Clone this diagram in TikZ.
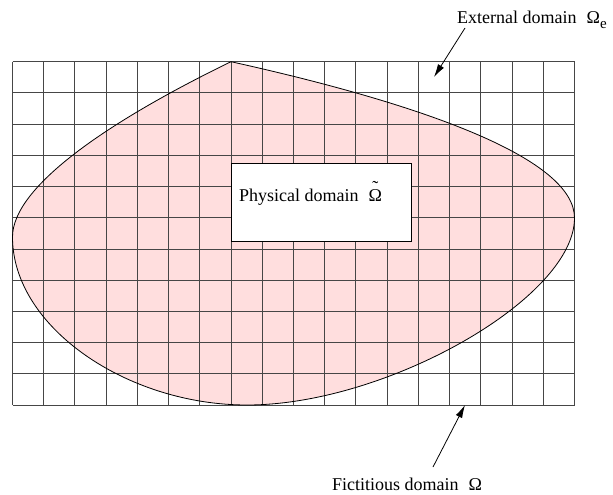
\documentclass[tikz,border=0pt]{standalone}
\usepackage{fontspec}
\setmainfont{Liberation Serif}
\usetikzlibrary{arrows.meta}
\definecolor{domainpink}{RGB}{255,222,222}
\definecolor{gridgray}{RGB}{70,70,70}
\newcommand{\tildeOmega}{\ooalign{Ω\cr\hidewidth\raisebox{8pt}{\symbol{"02DC}}\hidewidth\cr}}
\begin{document}
\begin{tikzpicture}[x=1pt,y=-1pt,
  gridline/.style={draw=gridgray,line width=0.9pt},
  outline/.style={draw=black,line width=0.8pt},
  pointer/.style={draw=black,line width=0.8pt,-{Latex[length=13pt,width=7pt]}},
  lbl/.style={font=\fontsize{18}{21}\selectfont,inner sep=0pt,anchor=base west}]
\useasboundingbox (0,0) rectangle (613,495);
% domain shape
\coordinate (peak) at (231,61.7);
\coordinate (east) at (574.5,218);
\coordinate (south) at (247,405);
\coordinate (west) at (12.5,237);
\fill[domainpink] (peak) .. controls (431,106) and (574.5,160) .. (east)
  .. controls (574.5,298) and (387,405) .. (south)
  .. controls (127,405) and (12.5,327) .. (west)
  .. controls (12.5,187) and (107,122) .. (peak) -- cycle;
% grid
\foreach \i in {0,...,18} {
  \draw[gridline] ({12.5+31.222*\i},61.7) -- ({12.5+31.222*\i},405);
}
\foreach \j in {0,...,11} {
  \draw[gridline] (12.5,{61.7+31.21*\j}) -- (574.5,{61.7+31.21*\j});
}
% outline
\draw[outline] (peak) .. controls (431,106) and (574.5,160) .. (east)
  .. controls (574.5,298) and (387,405) .. (south)
  .. controls (127,405) and (12.5,327) .. (west)
  .. controls (12.5,187) and (107,122) .. (peak) -- cycle;
% physical domain box
\node[draw=black,fill=white,line width=0.9pt,minimum width=179.7pt,minimum height=77.4pt,inner sep=0pt,anchor=north west] (phys) at (231,163.3) {};
\node[lbl] (physlbl) at (239,201.7) {Physical domain\hspace{10pt}\tildeOmega};
% labels
\node[lbl] (ext) at (457,24) {External domain\hspace{10pt}Ω\raisebox{-5pt}{\fontsize{15}{15}\selectfont e}};
\node[lbl] (fict) at (332,490) {Fictitious domain\hspace{10pt}Ω};
\coordinate (extTail) at (465,28);
\coordinate (extTip) at (434,77);
\coordinate (fictTail) at (433,467);
\coordinate (fictTip) at (465,405);
\draw[pointer] (extTail) -- (extTip);
\draw[pointer] (fictTail) -- (fictTip);
\end{tikzpicture}
\end{document}
